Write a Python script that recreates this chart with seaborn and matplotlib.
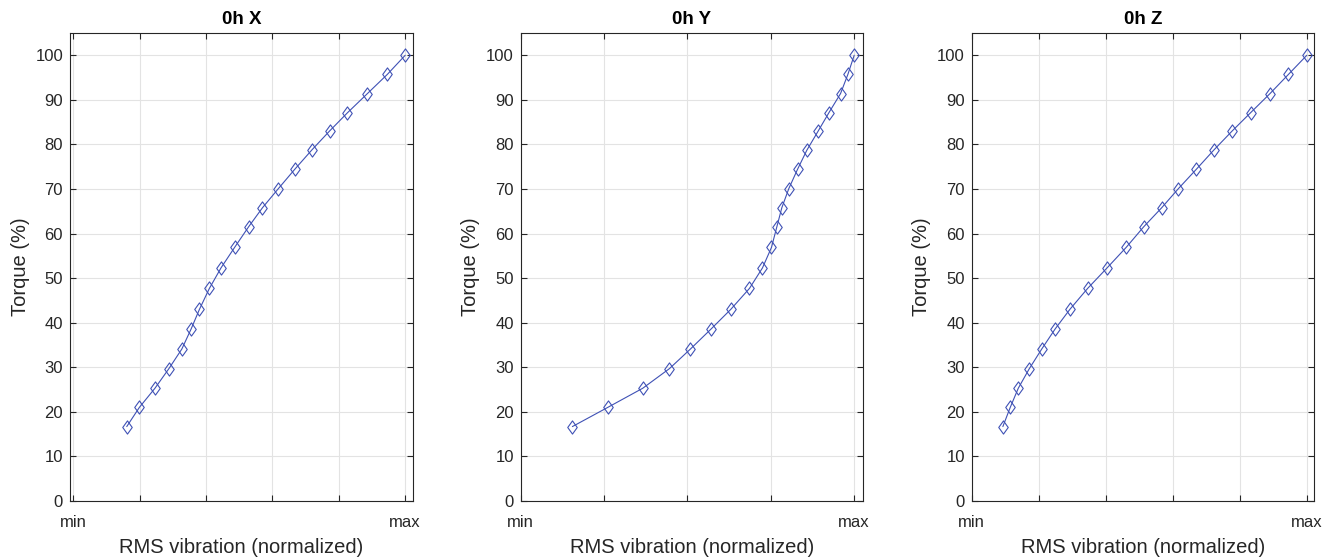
import numpy as np
import pandas as pd
import matplotlib
matplotlib.use("Agg")
import matplotlib.pyplot as plt
from matplotlib.path import Path
import seaborn as sns

# torque steps shared by all three axes
torque = [16.7, 21.0, 25.3, 29.7, 34.1, 38.6, 43.0, 47.7, 52.3, 56.9,
          61.5, 65.8, 70.1, 74.4, 78.7, 83.0, 87.1, 91.4, 95.7, 100.0]

# normalized RMS vibration per axis (0 = min, 1 = max)
rms_x = [0.161, 0.199, 0.246, 0.288, 0.327, 0.355, 0.380, 0.410, 0.445, 0.486,
         0.528, 0.570, 0.618, 0.667, 0.718, 0.772, 0.826, 0.886, 0.946, 1.0]
rms_y = [0.155, 0.261, 0.366, 0.446, 0.509, 0.571, 0.630, 0.686, 0.725, 0.752,
         0.768, 0.783, 0.804, 0.830, 0.858, 0.892, 0.924, 0.959, 0.981, 1.0]
rms_z = [0.093, 0.115, 0.139, 0.172, 0.209, 0.249, 0.293, 0.346, 0.404, 0.461,
         0.513, 0.567, 0.617, 0.670, 0.722, 0.777, 0.832, 0.890, 0.945, 1.0]

titles = ["0h X", "0h Y", "0h Z"]
xticks_list = [
    [0, 0.2, 0.4, 0.6, 0.8, 1.0],
    [0, 0.25, 0.5, 0.75, 1.0],
    [0, 0.2, 0.4, 0.6, 0.8, 1.0],
]
xlims = [(-0.01, 1.022), (0.0, 1.027), (0.0, 1.022)]
yticks = list(range(0, 101, 10))

line_color = "#3f51b5"
dark = "#262626"

# MATLAB-style diamond, a bit wider than matplotlib's thin diamond
diamond = Path([(0, 1), (0.72, 0), (0, -1), (-0.72, 0), (0, 1)],
               [Path.MOVETO, Path.LINETO, Path.LINETO, Path.LINETO, Path.CLOSEPOLY])

sns.set_theme(style="whitegrid")
plt.rcParams["font.family"] = ["Liberation Sans", "DejaVu Sans"]

fig = plt.figure(figsize=(13.37, 5.6), dpi=100)
W, H = 1337, 560
lefts = [70, 520.7, 971.7]
width = 342.5
top, bottom = 33, 501

for i, (rms, title) in enumerate(zip([rms_x, rms_y, rms_z], titles)):
    ax = fig.add_axes([lefts[i] / W, 1 - bottom / H, width / W, (bottom - top) / H])
    df = pd.DataFrame({"rms": rms, "torque": torque})
    sns.lineplot(data=df, x="rms", y="torque", sort=False, ax=ax,
                 color=line_color, linewidth=0.8, marker=diamond, markersize=9.5,
                 markerfacecolor="none", markeredgecolor=line_color,
                 markeredgewidth=0.8)

    ax.set_xlim(*xlims[i])
    ax.set_ylim(0, 105)
    ticks = xticks_list[i]
    ax.set_xticks(ticks)
    ax.set_xticklabels(["min"] + [""] * (len(ticks) - 2) + ["max"])
    ax.set_yticks(yticks)

    ax.grid(True, color="#e3e3e3", linewidth=0.8)
    for s in ax.spines.values():
        s.set_color(dark)
        s.set_linewidth(0.8)
        s.set_visible(True)
    ax.tick_params(direction="in", length=4, width=0.8, color=dark,
                   labelcolor=dark, labelsize=12, top=True, right=True,
                   bottom=True, left=True)
    ax.tick_params(axis="x", pad=10)
    ax.tick_params(axis="y", pad=5)
    ax.set_title(title, fontsize=13.5, fontweight="bold", color="black", pad=6.5)
    ax.set_xlabel("RMS vibration (normalized)", fontsize=14.5, color=dark, labelpad=6)
    ax.set_ylabel("Torque (%)", fontsize=14.5, color=dark, labelpad=4)

fig.savefig("out.png", dpi=100, facecolor="white")
